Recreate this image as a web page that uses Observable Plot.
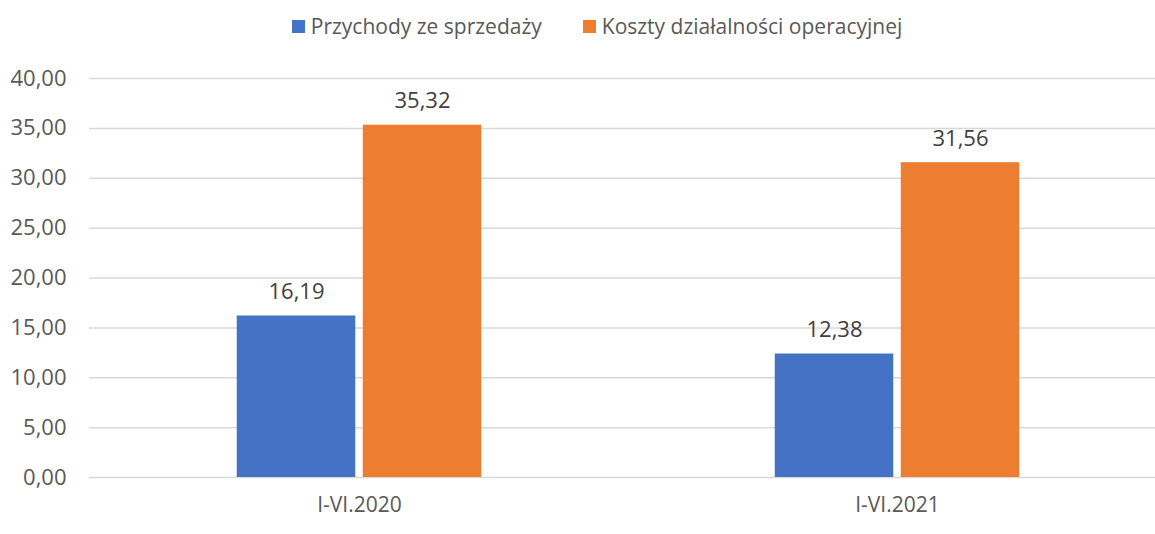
<!DOCTYPE html>
<html>
<head>
<meta charset="utf-8">
<script src="https://cdn.jsdelivr.net/npm/d3@7"></script>
<script src="https://cdn.jsdelivr.net/npm/@observablehq/plot@0.6"></script>
<style>
  html, body { margin: 0; padding: 0; background: #fff; }
  body { width: 1155px; height: 534px; overflow: hidden; font-family: "Open Sans", sans-serif; }
  #legend { height: 52px; display: flex; justify-content: center; align-items: center; gap: 41px; color: #595959; font-size: 21px; padding-left: 39px; box-sizing: border-box; }
  .item { display: flex; align-items: center; gap: 6px; }
  .sw { width: 13px; height: 13px; display: inline-block; }
</style>
</head>
<body>
<div id="legend"></div>
<div id="chart"></div>
<script>
const groups = ["I-VI.2020", "I-VI.2021"];
const seriesNames = ["Przychody ze sprzedaży", "Koszty działalności operacyjnej"];
const seriesColors = ["#4472C4", "#ED7D31"];
const revenue = [16.19, 12.38];
const costs = [35.32, 31.56];
const yTicks = [0, 5, 10, 15, 20, 25, 30, 35, 40];

const fmt = v => v.toFixed(2).replace(".", ",");

const legend = document.getElementById("legend");
seriesNames.forEach((name, i) => {
  const it = document.createElement("div");
  it.className = "item";
  const sw = document.createElement("span");
  sw.className = "sw";
  sw.style.background = seriesColors[i];
  const t = document.createElement("span");
  t.textContent = name;
  it.appendChild(sw); it.appendChild(t);
  legend.appendChild(it);
});

const revData = groups.map((g, i) => ({group: g, value: revenue[i]}));
const costData = groups.map((g, i) => ({group: g, value: costs[i]}));

const chart = Plot.plot({
  width: 1155,
  height: 482,
  marginTop: 26,
  marginBottom: 57,
  marginLeft: 89,
  marginRight: 0,
  style: {fontFamily: "Open Sans, sans-serif", fontSize: "21px", color: "#595959", background: "#fff"},
  x: {type: "band", domain: groups, range: [89.25, 1166.25], padding: 0, label: null},
  y: {domain: [0, 40], label: null},
  marks: [
    Plot.ruleY(yTicks, {stroke: "#d9d9d9", strokeWidth: 1.5}),
    Plot.barY(revData, {x: "group", y: "value", fill: seriesColors[0], insetLeft: 146.75, insetRight: 272.75}),
    Plot.barY(costData, {x: "group", y: "value", fill: seriesColors[1], insetLeft: 272.75, insetRight: 146.75}),
    Plot.text(revData, {x: "group", y: "value", text: d => fmt(d.value), dx: -63, dy: -24, fill: "#404040", fontSize: 22}),
    Plot.text(costData, {x: "group", y: "value", text: d => fmt(d.value), dx: 63, dy: -24, fill: "#404040", fontSize: 22}),
    Plot.axisY({ticks: yTicks, tickFormat: fmt, tickSize: 0, tickPadding: 23, label: null, fill: "#595959", fontSize: 22}),
    Plot.axisX({tickSize: 0, tickPadding: 20, label: null, fill: "#595959", fontSize: 21})
  ]
});
document.getElementById("chart").appendChild(chart);
</script>
</body>
</html>
